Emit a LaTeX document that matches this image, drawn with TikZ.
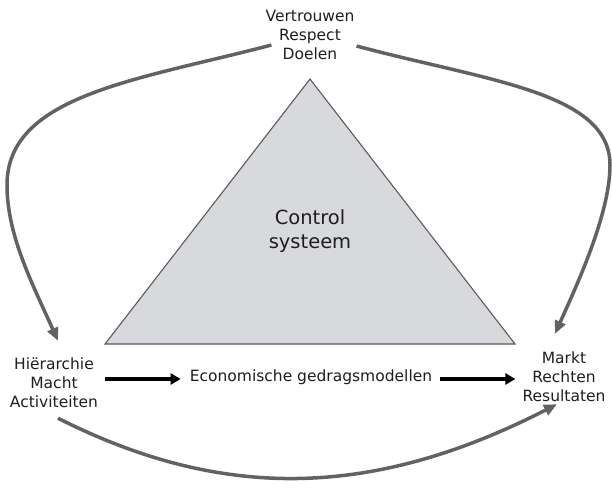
\documentclass[tikz,border=0pt]{standalone}
\usepackage{fontspec}
\setmainfont{DejaVu Sans}
\usetikzlibrary{arrows.meta}
\definecolor{curvegray}{RGB}{98,98,98}
\definecolor{trifill}{RGB}{216,217,220}
\definecolor{triedge}{RGB}{90,90,90}
\definecolor{ink}{RGB}{30,30,30}
\begin{document}
\begin{tikzpicture}[x=1pt,y=-1pt,
  lbl/.style={align=center,inner sep=0pt,text=ink,font=\fontsize{15.5}{19}\selectfont},
  biglbl/.style={align=center,inner sep=0pt,text=ink,font=\fontsize{19.5}{24}\selectfont},
  gcurve/.style={draw=curvegray,line width=3.5pt,-{Triangle[length=13pt,width=11pt]}},
  blk/.style={draw=black,line width=4pt,-{Triangle[length=10pt,width=11pt]}},
  tri/.style={draw=triedge,line width=1.1pt,fill=trifill,line join=miter}]
\useasboundingbox (0,0) rectangle (612,491);

% the pyramid
\draw[tri] (310,79) -- (515,344) -- (105,344) -- cycle;
\node[biglbl] (ctrl) at (310,231) {Control\\systeem};

% the three corners and the middle label
\node[lbl] (top) at (310,35) {Vertrouwen\\Respect\\Doelen};
\node[lbl] (left) at (54,383) {Hiërarchie\\Macht\\Activiteiten};
\node[lbl] (right) at (564,377) {Markt\\Rechten\\Resultaten};
\node[lbl] (mid) at (311,377) {Economische gedragsmodellen};

% straight arrows along the base
\draw[blk] ([xshift=6.5pt]left.east |- mid.west) ++(0,2) -- ([xshift=-9pt,yshift=-2pt]mid.west);
\draw[blk] ([xshift=8pt,yshift=-2pt]mid.east) -- ([xshift=-7pt,yshift=-2pt]mid.east -| right.west);

% sweeping arrows around the pyramid
\draw[gcurve] ([xshift=6pt,yshift=-10pt]top.west)
  .. controls (138,80) and (7,95) .. (7,185)
  .. controls (7,235) and (32,283) .. ([xshift=4pt,yshift=17pt]left.north);
\draw[gcurve] ([xshift=2pt,yshift=-11pt]top.east)
  .. controls (487,81) and (610,92) .. (610,165)
  .. controls (610,215) and (575,289) .. ([xshift=-9pt,yshift=18pt]right.north);
\draw[gcurve] ([xshift=4pt,yshift=-10pt]left.south)
  .. controls (220,500) and (370,500) .. ([xshift=-7pt,yshift=-2pt]right.south);
\end{tikzpicture}
\end{document}
